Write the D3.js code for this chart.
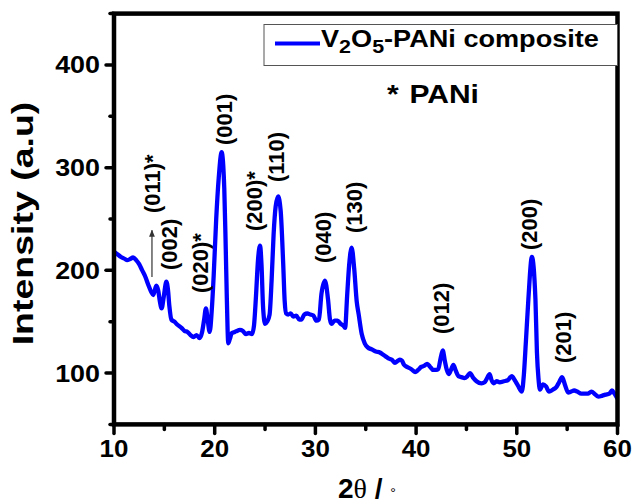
<!DOCTYPE html>
<html>
<head>
<meta charset="utf-8">
<script src="https://cdn.jsdelivr.net/npm/d3@7"></script>
<style>
  body { margin: 0; background: #fff; }
  svg { display: block; }
  text { font-family: "Liberation Sans", Arial, sans-serif; font-weight: bold; fill: #000; }
</style>
</head>
<body>
<svg id="chart" width="634" height="503"></svg>
<script>
// XRD pattern of the V2O5-PANi composite
const twoTheta = [
  10.0, 10.3, 10.7, 11.1, 11.3, 11.6, 11.9, 12.2, 12.5, 12.8, 13.1, 13.4, 13.7, 13.9, 14.2, 14.4, 14.55, 14.73, 14.95,
  15.2, 15.35, 15.5, 15.7, 16.0, 16.3, 16.7, 17.0, 17.3, 17.6, 17.9, 18.2, 18.5, 18.75, 18.95, 19.13, 19.3, 19.5,
  19.7, 19.9, 20.15, 20.4, 20.69, 20.95, 21.1, 21.2, 21.35, 21.5, 21.7, 22.0, 22.2, 22.5, 22.8, 23.1, 23.4, 23.7,
  23.9, 24.1, 24.3, 24.5, 24.65, 24.8, 25.0, 25.2, 25.45, 25.65, 25.85, 26.05, 26.3, 26.55, 26.8, 26.95, 27.1,
  27.3, 27.55, 27.8, 28.1, 28.4, 28.6, 28.9, 29.2, 29.5, 29.8, 30.1, 30.35, 30.6, 30.95, 31.25, 31.45, 31.6, 31.9,
  32.2, 32.5, 32.8, 32.95, 33.15, 33.35, 33.6, 33.85, 34.1, 34.3, 34.6, 34.9, 35.2, 35.6, 36.0, 36.4, 36.7, 37.0,
  37.3, 37.6, 37.9, 38.2, 38.4, 38.6, 38.8, 39.1, 39.5, 39.9, 40.2, 40.5, 40.8, 41.1, 41.4, 41.7, 42.0, 42.2,
  42.45, 42.65, 42.85, 43.05, 43.25, 43.5, 43.7, 43.95, 44.2, 44.5, 44.8, 45.1, 45.35, 45.7, 46.0, 46.5, 46.8,
  47.05, 47.3, 47.5, 47.7, 48.0, 48.3, 48.7, 49.1, 49.5, 49.8, 50.1, 50.5, 50.7, 50.9, 51.15, 51.5, 51.85, 52.0,
  52.15, 52.3, 52.6, 52.9, 53.2, 53.6, 53.9, 54.2, 54.5, 54.8, 55.1, 55.4, 55.7, 56.0, 56.4, 56.8, 57.1, 57.4,
  57.8, 58.1, 58.5, 58.8, 59.2, 59.45, 59.7, 60.0
];
const intensity = [
  218, 216, 213, 211, 210, 211, 212.5, 210, 206, 200, 194, 186, 179, 176, 185, 180, 170, 163, 175,
  189, 182, 165, 152, 150, 147, 144, 141, 140, 137, 135, 137, 134, 140, 152, 163, 152, 140,
  160, 195, 250, 290, 315, 280, 220, 175, 129, 133, 139, 140, 141, 142, 141, 138, 139, 138,
  146, 175, 210, 224, 205, 165, 148, 150, 157, 190, 235, 262, 272, 258, 207, 170, 158,
  157, 158, 155, 156, 152, 152, 157, 158, 157, 156, 151, 152, 177, 190, 172, 152, 148, 151,
  151, 148, 146, 144, 175, 205, 222, 202, 170, 157, 138, 129, 125, 123, 121, 120, 118, 116,
  114, 113, 110, 112, 113, 112, 108, 106, 104, 101, 103, 106, 107, 109, 106, 103, 103, 104,
  115, 122, 112, 103, 99, 104, 108, 102, 97, 96, 95, 97, 100, 95, 92, 90, 91,
  95, 99, 93, 90, 92, 91, 92, 93, 97, 93, 88, 82, 98, 130, 172, 213, 172, 120,
  95, 84, 89, 87, 82, 84, 86, 91, 96, 88, 81, 82, 83, 82, 80, 80, 80, 82,
  79, 77, 78, 79, 80, 83, 80, 75
];

const xTicks = [10, 20, 30, 40, 50, 60];
const xMinorTicks = [15, 25, 35, 45, 55];
const yTicks = [100, 200, 300, 400];
const yMinorTicks = [50, 150, 250, 350, 450];

// Miller-index annotations: text, 2θ position and intensity where the label starts
const peakLabels = ["(011)*", "(002)", "(020)*", "(001)", "(200)*", "(110)", "(040)", "(130)", "(012)", "(200)", "(201)"];
const peakLabelX = [14.57, 16.26, 19.33, 21.72, 24.70, 26.88, 31.55, 34.63, 43.27, 52.0, 55.38];
const peakLabelY = [255.8, 200.3, 177.9, 322, 238.3, 286, 207.2, 236.4, 138, 219.8, 109.8];

// Arrow marking the (011) PANi reflection: 2θ, start and end intensity
const arrowX = [13.77];
const arrowY = [193.5, 239];

const seriesName = ["V", "2", "O", "5", "-PANi composite"];
const markerNote = "PANi";

const svg = d3.select("#chart");
const x = d3.scaleLinear().domain([10, 60]).range([114, 617.5]);
const y = d3.scaleLinear().domain([50, 450]).range([424.4, 13.6]);

const defs = svg.append("defs");
defs.append("clipPath").attr("id", "plotClip")
  .append("rect").attr("x", x(10)).attr("y", y(450)).attr("width", x(60) - x(10)).attr("height", y(50) - y(450));
defs.append("marker").attr("id", "arrowHead")
  .attr("viewBox", "0 0 10 10").attr("refX", 9).attr("refY", 5)
  .attr("markerWidth", 6).attr("markerHeight", 8).attr("orient", "auto")
  .append("path").attr("d", "M0,1 L10,5 L0,9 Z").attr("fill", "#333");

// data curve
const pts = twoTheta.map((t, i) => [t, intensity[i]]);
svg.append("path")
  .datum(pts)
  .attr("clip-path", "url(#plotClip)")
  .attr("fill", "none")
  .attr("stroke", "#0000ff")
  .attr("stroke-width", 4.3)
  .attr("stroke-linejoin", "round")
  .attr("d", d3.line().x(d => x(d[0])).y(d => y(d[1])).curve(d3.curveMonotoneX));

// peak labels (rotated, read bottom-to-top)
peakLabels.forEach((lab, i) => {
  svg.append("text")
    .attr("transform", `translate(${x(peakLabelX[i])},${y(peakLabelY[i])}) rotate(-90)`)
    .attr("font-size", 22)
    .text(lab);
});

// arrow
svg.append("line")
  .attr("x1", x(arrowX[0])).attr("x2", x(arrowX[0]))
  .attr("y1", y(arrowY[0])).attr("y2", y(arrowY[1]))
  .attr("stroke", "#333").attr("stroke-width", 1.2)
  .attr("marker-end", "url(#arrowHead)");

// ticks
const tickStyle = sel => sel.attr("stroke", "#000").attr("stroke-width", 3.5).attr("stroke-linecap", "round");
svg.append("g").selectAll("line").data(xTicks).join("line")
  .attr("x1", d => x(d)).attr("x2", d => x(d)).attr("y1", y(50)).attr("y2", y(50) + 9).call(tickStyle);
svg.append("g").selectAll("line").data(xMinorTicks).join("line")
  .attr("x1", d => x(d)).attr("x2", d => x(d)).attr("y1", y(50)).attr("y2", y(50) + 5).call(tickStyle);
svg.append("g").selectAll("line").data(yTicks).join("line")
  .attr("x1", x(10)).attr("x2", x(10) - 8).attr("y1", d => y(d)).attr("y2", d => y(d)).call(tickStyle);
svg.append("g").selectAll("line").data(yMinorTicks).join("line")
  .attr("x1", x(10)).attr("x2", x(10) - 4).attr("y1", d => y(d)).attr("y2", d => y(d)).call(tickStyle);

// frame
svg.append("rect")
  .attr("x", x(10)).attr("y", y(450))
  .attr("width", x(60) - x(10)).attr("height", y(50) - y(450))
  .attr("fill", "none").attr("stroke", "#000").attr("stroke-width", 4.5);

// tick labels
svg.append("g").selectAll("text").data(xTicks).join("text")
  .attr("transform", d => `translate(${x(d)},457) scale(1.08,1)`)
  .attr("text-anchor", "middle").attr("font-size", 24)
  .text(d => d);
svg.append("g").selectAll("text").data(yTicks).join("text")
  .attr("transform", d => `translate(100,${y(d) + 8.5}) scale(1.12,1)`)
  .attr("text-anchor", "end").attr("font-size", 24)
  .text(d => d);

// axis titles
svg.append("text")
  .attr("transform", `translate(33,223.5) rotate(-90) scale(1.25,1)`)
  .attr("text-anchor", "middle").attr("font-size", 30)
  .text("Intensity (a.u)");

const xt = svg.append("text")
  .attr("x", 367).attr("y", 498).attr("text-anchor", "middle").attr("font-size", 28);
xt.append("tspan").text("2");
xt.append("tspan").attr("font-family", "'Liberation Serif', serif").attr("font-weight", "normal").text("θ");
xt.append("tspan").text(" / ");
xt.append("tspan").attr("font-weight", "normal").attr("font-size", 14).text("°");

// legend
svg.append("rect")
  .attr("x", 264).attr("y", 24.5).attr("width", x(60) - 264).attr("height", 41)
  .attr("fill", "#fff").attr("stroke", "#555").attr("stroke-width", 1);
svg.append("line")
  .attr("x1", 275).attr("x2", 320).attr("y1", 43.5).attr("y2", 43.5)
  .attr("stroke", "#0000ff").attr("stroke-width", 4);
const lt = svg.append("text")
  .attr("transform", "translate(321,47) scale(1.13,1)")
  .attr("font-size", 24);
seriesName.forEach((s, i) => {
  const isSub = i === 1 || i === 3;
  lt.append("tspan")
    .attr("font-size", isSub ? 19 : 24)
    .attr("dy", isSub ? 6 : (i === 0 ? 0 : -6))
    .text(s);
});

const nt = svg.append("text")
  .attr("transform", "translate(387,103) scale(1.2,1)")
  .attr("font-size", 25);
nt.append("tspan").text("*");
nt.append("tspan").attr("dx", 9).text(markerNote);
</script>
</body>
</html>
